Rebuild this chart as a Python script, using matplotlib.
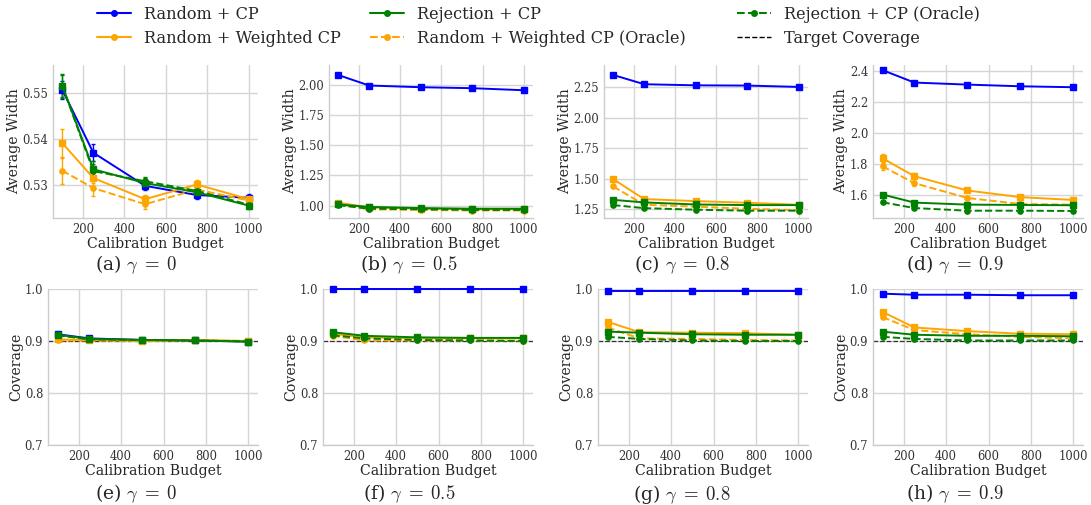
import matplotlib
matplotlib.use("Agg")
import matplotlib.pyplot as plt
from matplotlib.lines import Line2D
import seaborn as sns

sns.set_style("whitegrid")
plt.rcParams['font.family'] = ['DejaVu Serif']
plt.rcParams['mathtext.fontset'] = 'cm'

budgets = [100, 250, 500, 750, 1000]
gammas = ["0", "0.5", "0.8", "0.9"]

# Average width, one list per method per gamma
width_random_cp = [
    [0.5507, 0.5370, 0.5298, 0.5278, 0.5272],
    [2.082, 1.995, 1.981, 1.973, 1.956],
    [2.351, 2.275, 2.266, 2.264, 2.253],
    [2.406, 2.326, 2.313, 2.302, 2.296],
]
width_random_wcp = [
    [0.5391, 0.5315, 0.5269, 0.5301, 0.5269],
    [1.025, 0.985, 0.975, 0.970, 0.970],
    [1.495, 1.331, 1.315, 1.301, 1.285],
    [1.839, 1.724, 1.632, 1.589, 1.571],
]
width_rejection_cp = [
    [0.5516, 0.5334, 0.5304, 0.5284, 0.5255],
    [1.010, 0.990, 0.980, 0.975, 0.975],
    [1.325, 1.304, 1.287, 1.282, 1.282],
    [1.606, 1.554, 1.541, 1.539, 1.537],
]
width_random_wcp_oracle = [
    [0.5331, 0.5293, 0.5258, 0.5290, 0.5266],
    [1.010, 0.970, 0.965, 0.960, 0.960],
    [1.435, 1.285, 1.269, 1.252, 1.240],
    [1.787, 1.679, 1.584, 1.545, 1.541],
]
width_rejection_cp_oracle = [
    [0.5515, 0.5330, 0.5308, 0.5287, 0.5257],
    [1.005, 0.975, 0.970, 0.965, 0.965],
    [1.282, 1.257, 1.244, 1.236, 1.236],
    [1.556, 1.519, 1.502, 1.502, 1.500],
]

# Error bars on average width
werr_random_cp = [
    [0.0020, 0.0018, 0.0010, 0.0008, 0.0008],
    [0.006, 0.005, 0.004, 0.004, 0.004],
    [0.006, 0.005, 0.004, 0.004, 0.004],
    [0.006, 0.005, 0.004, 0.004, 0.004],
]
werr_random_wcp = [
    [0.0030, 0.0010, 0.0008, 0.0010, 0.0007],
    [0.006, 0.004, 0.003, 0.003, 0.003],
    [0.010, 0.006, 0.005, 0.004, 0.004],
    [0.030, 0.018, 0.010, 0.008, 0.006],
]
werr_rejection_cp = [
    [0.0025, 0.0018, 0.0010, 0.0008, 0.0008],
    [0.004, 0.003, 0.003, 0.003, 0.003],
    [0.004, 0.003, 0.003, 0.003, 0.003],
    [0.006, 0.004, 0.003, 0.003, 0.003],
]
werr_random_wcp_oracle = [
    [0.0028, 0.0018, 0.0010, 0.0008, 0.0007],
    [0.006, 0.004, 0.003, 0.003, 0.003],
    [0.010, 0.006, 0.005, 0.004, 0.004],
    [0.025, 0.016, 0.008, 0.006, 0.005],
]
werr_rejection_cp_oracle = [
    [0.0025, 0.0015, 0.0010, 0.0008, 0.0007],
    [0.004, 0.003, 0.003, 0.003, 0.003],
    [0.004, 0.003, 0.003, 0.003, 0.003],
    [0.005, 0.004, 0.003, 0.003, 0.003],
]

# Coverage
cov_random_cp = [
    [0.913, 0.905, 0.902, 0.901, 0.899],
    [0.9995, 0.9995, 0.9995, 0.9995, 0.9995],
    [0.997, 0.997, 0.997, 0.997, 0.997],
    [0.991, 0.989, 0.989, 0.988, 0.988],
]
cov_random_wcp = [
    [0.903, 0.902, 0.900, 0.902, 0.900],
    [0.914, 0.907, 0.905, 0.905, 0.905],
    [0.937, 0.917, 0.916, 0.915, 0.912],
    [0.956, 0.926, 0.919, 0.914, 0.913],
]
cov_rejection_cp = [
    [0.912, 0.904, 0.902, 0.901, 0.899],
    [0.917, 0.910, 0.907, 0.906, 0.906],
    [0.918, 0.916, 0.913, 0.912, 0.912],
    [0.918, 0.912, 0.910, 0.910, 0.909],
]
cov_random_wcp_oracle = [
    [0.901, 0.901, 0.900, 0.901, 0.900],
    [0.910, 0.901, 0.901, 0.901, 0.900],
    [0.926, 0.905, 0.904, 0.902, 0.901],
    [0.946, 0.921, 0.913, 0.908, 0.905],
]
cov_rejection_cp_oracle = [
    [0.911, 0.903, 0.902, 0.901, 0.899],
    [0.911, 0.905, 0.902, 0.901, 0.900],
    [0.908, 0.904, 0.901, 0.900, 0.900],
    [0.908, 0.904, 0.901, 0.901, 0.901],
]

target_coverage = 0.9
width_ylims = [(0.5228, 0.5561), (0.898, 2.165), (1.176, 2.433), (1.455, 2.439)]
width_yticks = [[0.53, 0.54, 0.55], [1.00, 1.25, 1.50, 1.75, 2.00],
                [1.25, 1.50, 1.75, 2.00, 2.25], [1.6, 1.8, 2.0, 2.2, 2.4]]
width_yfmt = ["{:.2f}", "{:.2f}", "{:.2f}", "{:.1f}"]
cov_ylim = (0.7, 1.0)
cov_yticks = [0.7, 0.8, 0.9, 1.0]
xticks = [200, 400, 600, 800, 1000]

BLUE = "#0000ff"
ORANGE = "#ffa500"
GREEN = "#008000"

methods = [
    ("Random + CP", BLUE, "-", "s", width_random_cp, werr_random_cp, cov_random_cp),
    ("Random + Weighted CP", ORANGE, "-", "s", width_random_wcp, werr_random_wcp, cov_random_wcp),
    ("Rejection + CP", GREEN, "-", "s", width_rejection_cp, werr_rejection_cp, cov_rejection_cp),
    ("Random + Weighted CP (Oracle)", ORANGE, "--", "o", width_random_wcp_oracle, werr_random_wcp_oracle, cov_random_wcp_oracle),
    ("Rejection + CP (Oracle)", GREEN, "--", "o", width_rejection_cp_oracle, werr_rejection_cp_oracle, cov_rejection_cp_oracle),
]
draw_order = [0, 1, 3, 2, 4]

W, H = 1091, 505
fig = plt.figure(figsize=(W / 100, H / 100), dpi=100)

top_x = [(53, 258), (329, 533), (604, 808), (873, 1083)]
bot_x = [(48, 258), (323, 533), (598, 808), (873, 1083)]
top_y = (65, 218)
bot_y = (289, 445)

def add_ax(xr, yr):
    return fig.add_axes([xr[0] / W, 1 - yr[1] / H, (xr[1] - xr[0]) / W, (yr[1] - yr[0]) / H])

def style(ax):
    for s in ["top", "right"]:
        ax.spines[s].set_visible(False)
    for s in ["left", "bottom"]:
        ax.spines[s].set_color("#cccccc")
        ax.spines[s].set_linewidth(1.0)
    ax.grid(True, color="#d5d5d5", linewidth=1.0)
    ax.tick_params(axis="both", labelsize=8.3, colors="#333333", length=0, pad=3.5)
    ax.set_xticks(xticks)
    ax.set_xlim(55, 1045)
    ax.set_xlabel("Calibration Budget", fontsize=10.2, color="#262626", labelpad=0.5)

letters_top = "abcd"
letters_bot = "efgh"

for j in range(4):
    ax = add_ax(top_x[j], top_y)
    for k in draw_order:
        name, col, ls, mk, wv, we, cv = methods[k]
        ax.errorbar(budgets, wv[j], yerr=we[j], color=col, linestyle=ls, marker=mk,
                    markersize=4.3 if mk == "s" else 3.8, linewidth=1.4, capsize=1.5,
                    elinewidth=1.0, zorder=3)
    style(ax)
    ax.set_ylim(*width_ylims[j])
    ax.set_yticks(width_yticks[j])
    ax.set_yticklabels([width_yfmt[j].format(v) for v in width_yticks[j]])
    ax.set_ylabel("Average Width", fontsize=10.2, color="#262626", labelpad=1)
    cx = (j + 0.5) / 4
    fig.text(cx, 1 - 265 / H, f"({letters_top[j]}) $\\gamma\\;=\\;{gammas[j]}$", ha="center",
             va="center", fontsize=13.5, color="#262626")

    ax = add_ax(bot_x[j], bot_y)
    for k in draw_order:
        name, col, ls, mk, wv, we, cv = methods[k]
        ax.plot(budgets, cv[j], color=col, linestyle=ls, marker=mk,
                markersize=4.3 if mk == "s" else 3.8, linewidth=1.4, zorder=3, clip_on=False)
    ax.axhline(target_coverage, color="#333333", linestyle="--", linewidth=0.9, zorder=2)
    style(ax)
    ax.set_ylim(*cov_ylim)
    ax.set_yticks(cov_yticks)
    ax.set_yticklabels([f"{v:.1f}" for v in cov_yticks])
    ax.set_ylabel("Coverage", fontsize=10.2, color="#262626", labelpad=1)
    fig.text(cx, 1 - 494 / H, f"({letters_bot[j]}) $\\gamma\\;=\\;{gammas[j]}$", ha="center",
             va="center", fontsize=13.5, color="#262626")

handles = []
labels = []
for k in range(5):
    name, col, ls, mk, wv, we, cv = methods[k]
    handles.append(Line2D([], [], color=col, linestyle=ls, marker="o", markersize=4, linewidth=1.5))
    labels.append(name)
handles.append(Line2D([], [], color="black", linestyle="--", linewidth=1.0))
labels.append("Target Coverage")

col_x = [97, 370, 737]
for c in range(3):
    leg = fig.legend(handles[2 * c:2 * c + 2], labels[2 * c:2 * c + 2], loc="upper left",
                     bbox_to_anchor=(col_x[c] / W, 1 - 6 / H), frameon=False, fontsize=11.6,
                     handlelength=2.1, labelspacing=0.42, handletextpad=0.8,
                     borderpad=0, borderaxespad=0)

fig.savefig("out.png", dpi=100)
